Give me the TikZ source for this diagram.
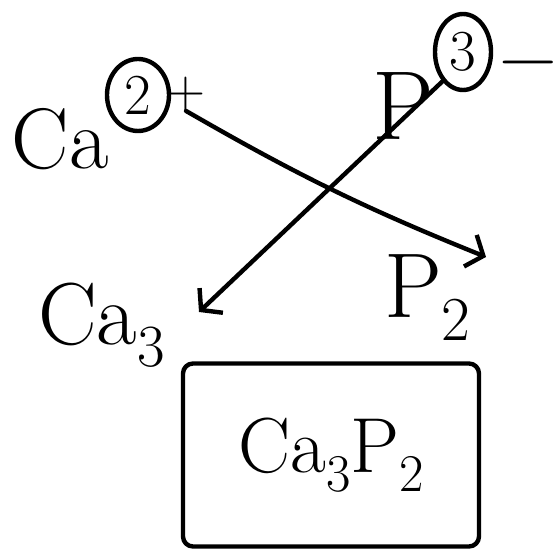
\documentclass[tikz,border=0pt]{standalone}
\usetikzlibrary{arrows.meta,shapes.geometric}
\newcommand{\dn}[1]{\raisebox{-0.25em}{\scalebox{0.68}{#1}}}

\begin{document}
\begin{tikzpicture}[x=1pt, y=-1pt,
  ink/.style={line width=4.4pt, line cap=round, line join=round},
  sym/.style={inner sep=0pt, outer sep=0pt},
  ring/.style={ellipse, draw, ink, inner sep=0pt, font=\fontsize{58}{58}\selectfont},
  link/.style={ink, -{Straight Barb[length=14pt, width=34pt]}}
]
\useasboundingbox (0,0) rectangle (560,553);

% charges on top
\node[sym, anchor=base west, font=\fontsize{86}{86}\selectfont] (ca) at (12,169) {Ca};
\node[ring, minimum width=62pt, minimum height=72pt] (two) at (138,95) {2};
\node[sym, font=\fontsize{54}{54}\selectfont] (plus) at (186,94) {+};
\node[sym, anchor=base west, font=\fontsize{98}{98}\selectfont] (p) at (372,140) {P};
\node[ring, minimum width=56pt, minimum height=76pt] (three) at (463,52) {3};
\node[sym, font=\fontsize{80}{80}\selectfont] (minus) at (528,72) {−};

% swapped values
\node[sym, anchor=base west, font=\fontsize{88}{88}\selectfont] (ca3) at (38,345) {Ca\dn{3}};
\node[sym, anchor=base west, font=\fontsize{92}{92}\selectfont] (p2) at (384,318) {P\dn{2}};

\coordinate (tipP) at (486,257);
\coordinate (tipCa) at (199,312);
\draw[link] (plus.south) to[bend right=4] (tipP);
\draw[link] (three.235) -- (tipCa);

% result
\node[draw, ink, rounded corners=10pt, minimum width=296pt, minimum height=183pt,
      font=\fontsize{78}{78}\selectfont] (answer) at (331,455) {Ca\dn{3}P\dn{2}};
\end{tikzpicture}
\end{document}
